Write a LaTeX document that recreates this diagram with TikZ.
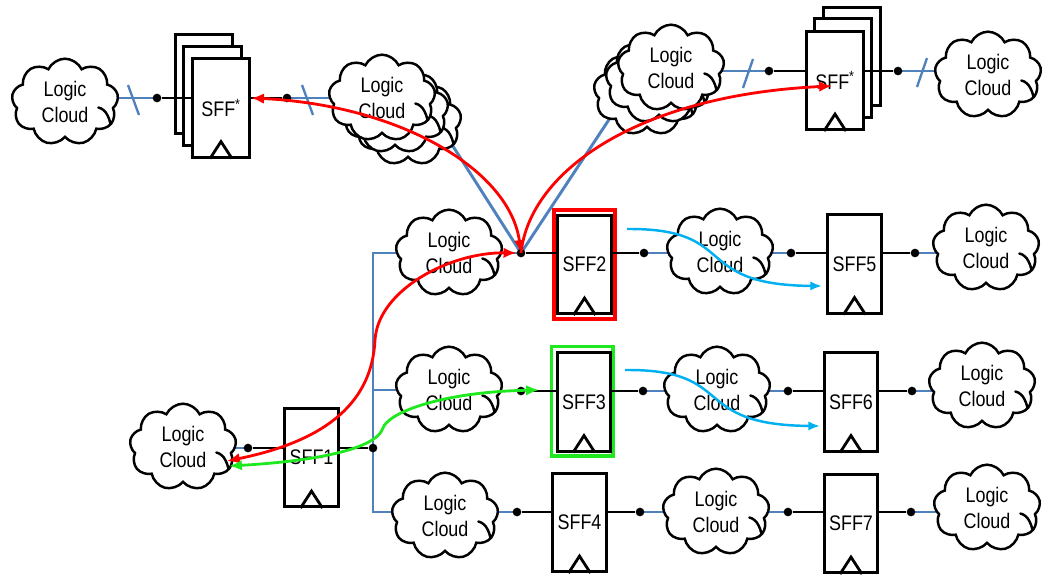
\documentclass[tikz,border=0pt]{standalone}
\usepackage{fontspec}
\setmainfont{Liberation Sans}[FakeStretch=0.85]
\usetikzlibrary{shapes.symbols,arrows.meta,calc}
\definecolor{busblue}{RGB}{79,129,189}
\definecolor{arrred}{RGB}{255,0,0}
\definecolor{arrgreen}{RGB}{30,232,30}
\definecolor{arrcyan}{RGB}{0,176,240}
\pgfdeclarelayer{bg}
\pgfsetlayers{bg,main}
\newcommand{\flop}[4]{%
  \node[ffbox] (#1) at (#2,#3) {#4};
  \draw[clk] ($(#1.south)+(-11,0)$) -- ++(11,-17) -- ++(11,17);}
\begin{document}
\begin{tikzpicture}[x=0.03cm,y=-0.03cm,
  cloudy/.style={cloud, cloud puffs=9, cloud puff arc=130, aspect=1.3,
    draw=black, line width=2.1pt, fill=white, minimum width=3.2cm,
    minimum height=2.6cm, inner sep=0pt, align=center,
    font=\fontsize{18}{22}\selectfont,
    path picture={
      \coordinate (pc) at (path picture bounding box.center);
      \draw[line width=2.1pt, line cap=round]
        ($(pc)+(1.0cm,-0.18cm)$) .. controls ($(pc)+(1.25cm,-0.24cm)$)
        and ($(pc)+(1.35cm,-0.5cm)$) .. ($(pc)+(1.42cm,-0.95cm)$);
    }},
  ffbox/.style={draw=black, line width=2.4pt, fill=white, minimum width=1.6cm,
    minimum height=2.95cm, inner sep=0pt, font=\fontsize{18}{20}\selectfont},
  stackbox/.style={ffbox, minimum width=1.72cm},
  clk/.style={line width=2.4pt, line join=miter},
  dotn/.style={circle, fill=black, inner sep=0pt, minimum size=0.26cm},
  bus/.style={busblue, line width=2.5pt},
  wire/.style={black, line width=2.4pt},
  slashmark/.style={busblue, line width=2pt},
  redbox/.style={draw=arrred, line width=3.4pt, minimum width=1.83cm, minimum height=3.27cm, inner sep=0pt},
  greenbox/.style={draw=arrgreen, line width=3.4pt, minimum width=1.83cm, minimum height=3.27cm, inner sep=0pt},
  redarr/.style={arrred, line width=2.4pt, arrows={<->}, >={Latex[length=11pt,width=9pt]}},
  redone/.style={arrred, line width=2.4pt, arrows={->}, >={Latex[length=11pt,width=9pt]}},
  grnarr/.style={arrgreen, line width=2.4pt, arrows={<->}, >={Latex[length=11pt,width=9pt]}},
  cyanarr/.style={arrcyan, line width=2.1pt, arrows={->}, >={Latex[length=10pt,width=8pt]}},
]
\useasboundingbox (0,0) rectangle (1043,577);

% ---------- top-left group ----------
\node[cloudy] (cTL) at (65,102) {Logic\\Cloud};
\node[stackbox] (sTLc) at (204,84) {};
\node[stackbox] (sTLb) at (212.5,96) {};
\node[stackbox] (sTLa) at (221,108) {SFF\textsuperscript{*}};
\draw[clk] ($(sTLa.south)+(-11,0)$) -- ++(11,-17) -- ++(11,17);
\node[cloudy] (kA1) at (408,122) {};
\node[cloudy] (kA2) at (395,110) {};
\node[cloudy] (kA3) at (382,98) {Logic\\Cloud};
\node[dotn] (dTLa) at (157,98) {};
\node[dotn] (dTLb) at (287,98) {};
\coordinate (jA) at (449,140);

% ---------- top-right group ----------
\node[cloudy] (kB1) at (647,92) {};
\node[cloudy] (kB2) at (659,80) {};
\node[cloudy] (kB3) at (671,68) {Logic\\Cloud};
\node[stackbox] (sTRc) at (852,56.5) {};
\node[stackbox] (sTRb) at (843,68) {};
\node[stackbox] (sTRa) at (835,80.5) {SFF\textsuperscript{*}};
\draw[clk] ($(sTRa.south)+(-11,0)$) -- ++(11,-17) -- ++(11,17);
\node[cloudy] (cTR) at (988,75) {Logic\\Cloud};
\node[dotn] (dTRa) at (769,71) {};
\node[dotn] (dTRb) at (898,71) {};
\coordinate (jB) at (612,115);

% ---------- SFF1 ----------
\node[cloudy] (c1) at (183,447) {Logic\\Cloud};
\flop{s1}{311.5}{457.5}{SFF1}
\node[dotn] (d1a) at (248,448) {};
\node[dotn] (d1b) at (373,448) {};
\coordinate (vt) at (373,253);
\coordinate (vb) at (373,512);

% ---------- row 2 ----------
\node[cloudy] (c2a) at (449,253) {Logic\\Cloud};
\node[redbox] (r2) at (584.5,264.5) {};
\flop{s2}{584.5}{264.5}{SFF2}
\node[cloudy] (c2b) at (720,252) {Logic\\Cloud};
\flop{s5}{854.5}{264}{SFF5}
\node[cloudy] (c2c) at (986,248) {Logic\\Cloud};
\node[dotn] (d2a) at (521,253) {};
\node[dotn] (d2b) at (644,253) {};
\node[dotn] (d2c) at (791,253) {};
\node[dotn] (d2d) at (915,253) {};

% ---------- row 3 ----------
\node[cloudy] (c3a) at (449,390) {Logic\\Cloud};
\node[greenbox] (g3) at (582,401) {};
\flop{s3}{584}{402}{SFF3}
\node[cloudy] (c3b) at (717,390) {Logic\\Cloud};
\flop{s6}{851}{402}{SFF6}
\node[cloudy] (c3c) at (982,386) {Logic\\Cloud};
\node[dotn] (d3a) at (521,391) {};
\node[dotn] (d3b) at (643,391) {};
\node[dotn] (d3c) at (788,391) {};
\node[dotn] (d3d) at (912,391) {};

% ---------- row 4 ----------
\node[cloudy] (c4a) at (445,516) {Logic\\Cloud};
\flop{s4}{579.5}{522.5}{SFF4}
\node[cloudy] (c4b) at (716,512) {Logic\\Cloud};
\flop{s7}{851}{523.5}{SFF7}
\node[cloudy] (c4c) at (987,508) {Logic\\Cloud};
\node[dotn] (d4a) at (517,512) {};
\node[dotn] (d4b) at (640,512) {};
\node[dotn] (d4c) at (788,512) {};
\node[dotn] (d4d) at (911,512) {};

% ---------- blue buses (behind clouds) ----------
\begin{pgfonlayer}{bg}
  \draw[bus] (cTL.center |- dTLa) -- (dTLa.center);
  \draw[bus] (dTLb.center) -- (kA3.center |- dTLb);
  \draw[bus] (kB3.center |- dTRa) -- (dTRa.center);
  \draw[bus] (dTRb.center) -- (cTR.center |- dTRb);
  \draw[bus] (jA) -- (d2a.center);
  \draw[bus] (jB) -- (d2a.center);
  \draw[bus] (c1.center |- d1a) -- (d1a.center);
  \draw[bus] (c2a.center) -- (vt) -- (vb) -- (c4a.center |- vb);
  \draw[bus] (c3a.center) -- (vt |- c3a);
  \draw[bus] (c2a.center) -- (d2a.center);
  \draw[bus] (d2b.center) -- (c2b.center |- d2b);
  \draw[bus] (c2b.center |- d2c) -- (d2c.center);
  \draw[bus] (d2d.center) -- (c2c.center |- d2d);
  \draw[bus] (c3a.center |- d3a) -- (d3a.center);
  \draw[bus] (d3b.center) -- (c3b.center |- d3b);
  \draw[bus] (c3b.center |- d3c) -- (d3c.center);
  \draw[bus] (d3d.center) -- (c3c.center |- d3d);
  \draw[bus] (c4a.center |- d4a) -- (d4a.center);
  \draw[bus] (d4b.center) -- (c4b.center |- d4b);
  \draw[bus] (c4b.center |- d4c) -- (d4c.center);
  \draw[bus] (d4d.center) -- (c4c.center |- d4d);
\end{pgfonlayer}

% bus slash marks
\draw[slashmark] (128,85) -- (139,115);
\draw[slashmark] (302,85) -- (313,115);
\draw[slashmark] (753,59) -- (743,88);
\draw[slashmark] (927,58) -- (917,87);

% ---------- black wires ----------
\draw[wire] (dTLa) -- (sTLa.west |- dTLa);
\draw[wire] (sTLa.east |- dTLb) -- (dTLb);
\draw[wire] (dTRa) -- (sTRa.west |- dTRa);
\draw[wire] (sTRa.east |- dTRb) -- (dTRb);
\draw[wire] (d1a) -- (s1.west |- d1a);
\draw[wire] (s1.east |- d1b) -- (d1b);
\draw[wire] (d2a) -- (s2.west |- d2a);
\draw[wire] (s2.east |- d2b) -- (d2b);
\draw[wire] (d2c) -- (s5.west |- d2c);
\draw[wire] (s5.east |- d2d) -- (d2d);
\draw[wire] (d3a) -- (s3.west |- d3a);
\draw[wire] (s3.east |- d3b) -- (d3b);
\draw[wire] (d3c) -- (s6.west |- d3c);
\draw[wire] (s6.east |- d3d) -- (d3d);
\draw[wire] (d4a) -- (s4.west |- d4a);
\draw[wire] (s4.east |- d4b) -- (d4b);
\draw[wire] (d4c) -- (s7.west |- d4c);
\draw[wire] (s7.east |- d4d) -- (d4d);

% ---------- coloured propagation arrows ----------
\coordinate (tB) at (832,86);
\coordinate (tC) at (227,461);
\coordinate (tG) at (229,466);
\coordinate (tG2) at (539,390);
\coordinate (q1) at (627,229);
\coordinate (q2) at (822,286);
\coordinate (q3) at (625,370);
\coordinate (q4) at (820,426);

\draw[redarr] (sTLa.east |- dTLb) .. controls (400,105) and (510,170) .. (d2a.center);
\draw[redone] (d2a.center) .. controls (530,170) and (640,95) .. (tB);
\draw[redarr] (tC) .. controls (330,440) and (372,400) .. (375,340)
  .. controls (378,290) and (450,252) .. (d2a.west);
\draw[grnarr] (tG) .. controls (300,462) and (375,452) .. (383,428)
  .. controls (388,413) and (440,392) .. (tG2);
\draw[cyanarr] (q1) .. controls (740,228) and (690,285) .. (q2);
\draw[cyanarr] (q3) .. controls (738,369) and (688,425) .. (q4);
\end{tikzpicture}
\end{document}
